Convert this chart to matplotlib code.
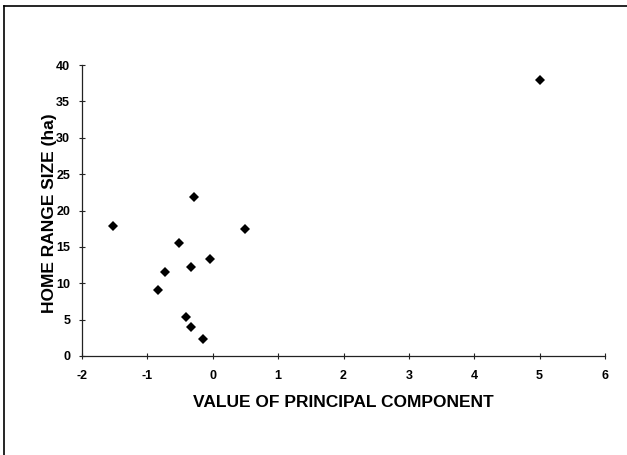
import matplotlib
matplotlib.use('Agg')
import matplotlib.pyplot as plt
from matplotlib.lines import Line2D

# values of principal component vs home range size (ha)
pc = [-1.52, -0.29, 0.49, -0.52, -0.04, -0.33, -0.73, -0.84, -0.41, -0.34, -0.15, 5.0]
home_range = [17.9, 21.8, 17.5, 15.6, 13.4, 12.3, 11.6, 9.1, 5.4, 4.0, 2.3, 37.9]

x_ticks = [-2, -1, 0, 1, 2, 3, 4, 5, 6]
y_ticks = [0, 5, 10, 15, 20, 25, 30, 35, 40]

plt.rcParams['font.family'] = ['Liberation Sans', 'DejaVu Sans']
plt.rcParams['axes.unicode_minus'] = False

fig = plt.figure(figsize=(6.27, 4.55), dpi=100)
ax = fig.add_axes([0.1308, 0.2176, 0.8341, 0.6395])

ax.plot(pc, home_range, 'D', color='black', markersize=4.6, markeredgewidth=0,
        linestyle='none', clip_on=False)

ax.set_xlim(-2, 6)
ax.set_ylim(0, 40)
ax.set_xticks(x_ticks)
ax.set_yticks(y_ticks)
ax.set_xticklabels([str(t) for t in x_ticks], fontweight='bold', fontsize=9)
ax.set_yticklabels([str(t) for t in y_ticks], fontweight='bold', fontsize=9)
ax.tick_params(direction='inout', length=4, width=0.8, color='#222222')
ax.tick_params(axis='x', pad=8)
ax.tick_params(axis='y', pad=6.5)

for s in ['top', 'right']:
    ax.spines[s].set_visible(False)
for s in ['left', 'bottom']:
    ax.spines[s].set_linewidth(0.9)
    ax.spines[s].set_color('#222222')

ax.set_xlabel('VALUE OF PRINCIPAL COMPONENT', fontweight='bold', fontsize=12.5)
ax.set_ylabel('HOME RANGE SIZE (ha)', fontweight='bold', fontsize=12.5)
ax.xaxis.set_label_coords(0.5, -0.133)
ax.yaxis.set_label_coords(-0.048, 0.491)

# scanned frame: top and left edges only
fig.lines.append(Line2D([0.0064, 1.0], [0.987, 0.987], transform=fig.transFigure,
                        color='black', linewidth=1.2))
fig.lines.append(Line2D([0.0064, 0.0064], [0.0, 0.987], transform=fig.transFigure,
                        color='black', linewidth=1.2))

fig.savefig('out.png', dpi=100)
